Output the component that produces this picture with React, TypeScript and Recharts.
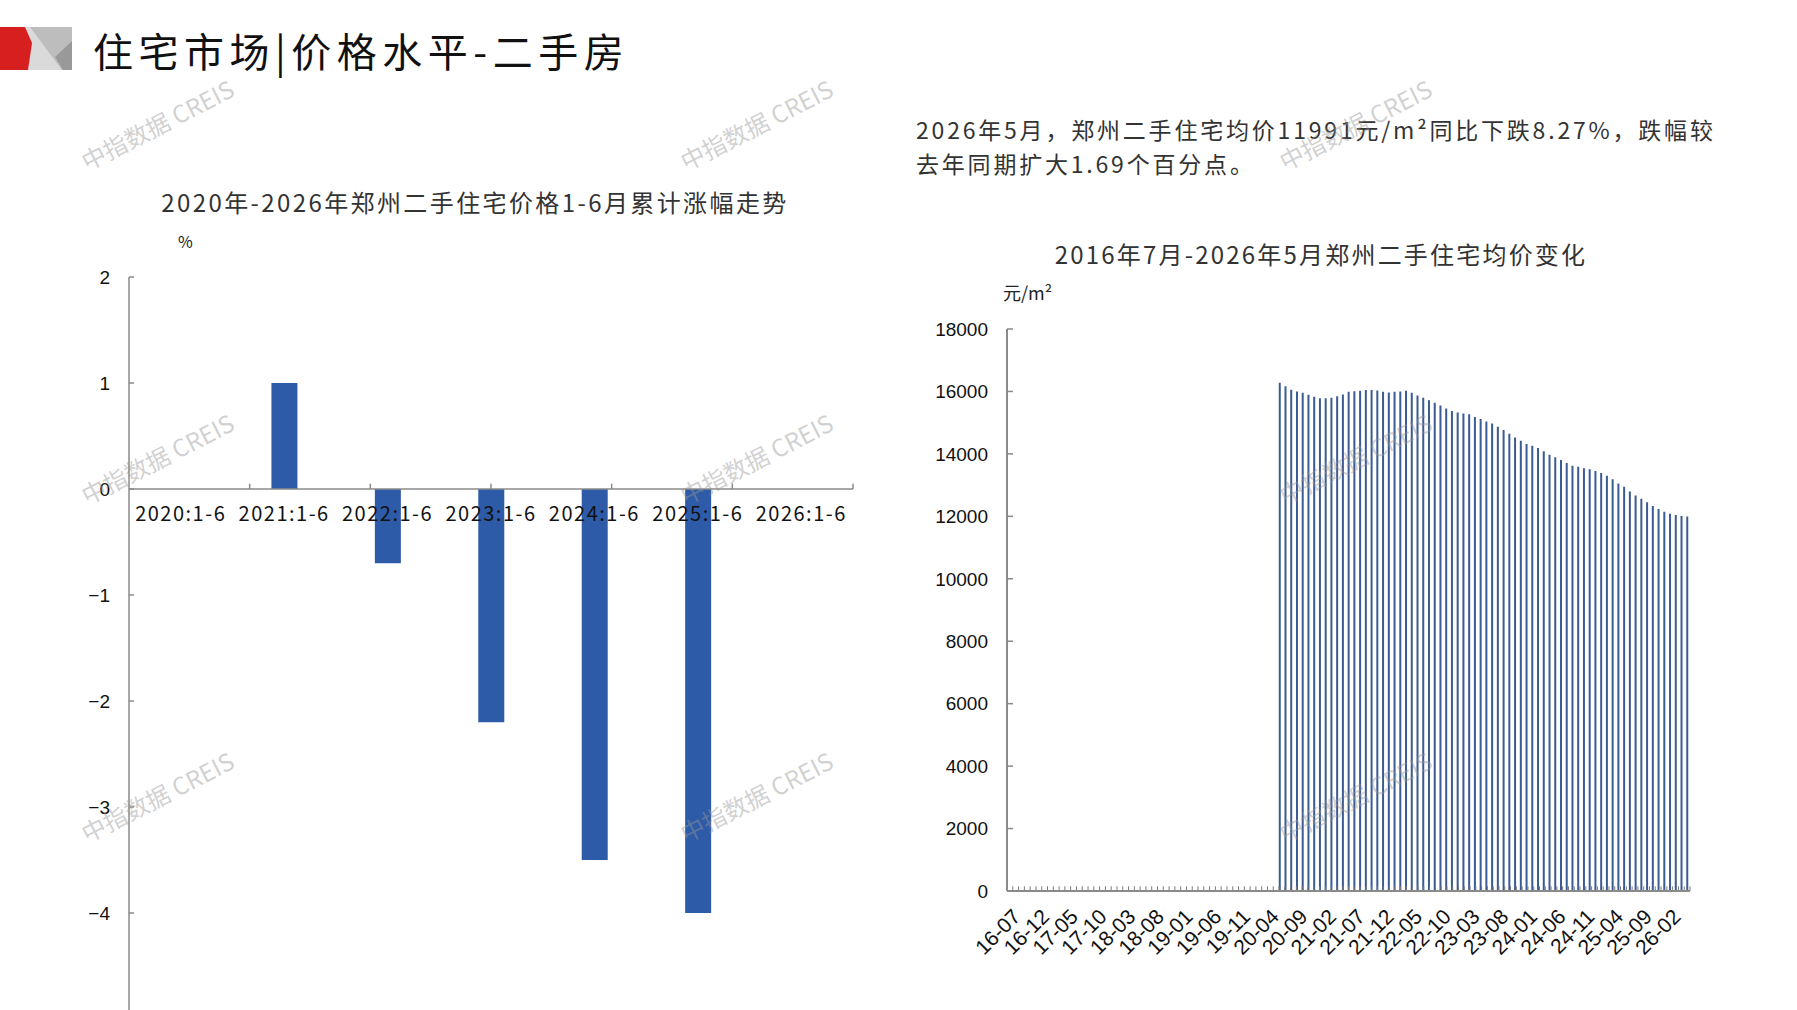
import React from "react";
import { BarChart, Bar, XAxis, YAxis, ReferenceLine, ReferenceDot } from "recharts";

// left chart: Jan-Jun cumulative change, %
const halfYears = ["2020:1-6", "2021:1-6", "2022:1-6", "2023:1-6", "2024:1-6", "2025:1-6", "2026:1-6"];
const halfYearChange: (number | null)[] = [null, 1.0, -0.7, -2.2, -3.5, -4.0, null];
const changeTicks = [-4, -3, -2, -1, 0, 1, 2];

// right chart: monthly average second-hand price, yuan/m2
const months = [
  "16-07", "16-08", "16-09", "16-10", "16-11", "16-12",
  "17-01", "17-02", "17-03", "17-04", "17-05", "17-06", "17-07", "17-08", "17-09", "17-10", "17-11", "17-12",
  "18-01", "18-02", "18-03", "18-04", "18-05", "18-06", "18-07", "18-08", "18-09", "18-10", "18-11", "18-12",
  "19-01", "19-02", "19-03", "19-04", "19-05", "19-06", "19-07", "19-08", "19-09", "19-10", "19-11", "19-12",
  "20-01", "20-02", "20-03", "20-04", "20-05", "20-06", "20-07", "20-08", "20-09", "20-10", "20-11", "20-12",
  "21-01", "21-02", "21-03", "21-04", "21-05", "21-06", "21-07", "21-08", "21-09", "21-10", "21-11", "21-12",
  "22-01", "22-02", "22-03", "22-04", "22-05", "22-06", "22-07", "22-08", "22-09", "22-10", "22-11", "22-12",
  "23-01", "23-02", "23-03", "23-04", "23-05", "23-06", "23-07", "23-08", "23-09", "23-10", "23-11", "23-12",
  "24-01", "24-02", "24-03", "24-04", "24-05", "24-06", "24-07", "24-08", "24-09", "24-10", "24-11", "24-12",
  "25-01", "25-02", "25-03", "25-04", "25-05", "25-06", "25-07", "25-08", "25-09", "25-10", "25-11", "25-12",
  "26-01", "26-02", "26-03", "26-04", "26-05",
];
const avgPrice: (number | null)[] = [
  null, null, null, null, null, null,
  null, null, null, null, null, null, null, null, null, null, null, null,
  null, null, null, null, null, null, null, null, null, null, null, null,
  null, null, null, null, null, null, null, null, null, null, null, null,
  null, null, null, null, null, 16280, 16170, 16055, 16000, 15960, 15895, 15830,
  15785, 15785, 15800, 15850, 15905, 15990, 16010, 16025, 16045, 16045, 16030, 15990,
  15970, 15990, 16000, 16025, 15960, 15870, 15800, 15720, 15635, 15550, 15450, 15375,
  15325, 15290, 15270, 15185, 15120, 15040, 14970, 14870, 14765, 14645, 14525, 14420,
  14315, 14260, 14185, 14085, 13975, 13895, 13805, 13710, 13620, 13590, 13540, 13505,
  13450, 13385, 13300, 13185, 13055, 12945, 12795, 12670, 12560, 12450, 12330, 12235,
  12150, 12085, 12040, 12010, 11991,
];
const priceTicks = [0, 2000, 4000, 6000, 8000, 10000, 12000, 14000, 16000, 18000];

const watermarkX = [157, 756, 1355];
const watermarkY = [124, 458, 796];

const CJK = '"Noto Sans CJK SC", "Noto Sans", sans-serif';
const ARIAL = '"Liberation Sans", Arial, sans-serif';
const AXIS = "#8a8a8a";

const changeData = halfYears.map((period, i) => ({ period, change: halfYearChange[i] }));
const priceData = months.map((month, i) => ({ month, price: avgPrice[i] }));
// category boundaries on a hidden numeric axis, for Excel-style tick marks
const halfYearEdges = halfYears.map((_, i) => i + 1);
const monthEdges = months.map((_, i) => i + 1);

const MonthTick = (props: any) => {
  const { x, y, payload } = props;
  const ax = x + 12;
  const ay = y + 19;
  return (
    <text
      x={ax}
      y={ay}
      transform={`rotate(-45 ${ax} ${ay})`}
      textAnchor="end"
      fontSize={21}
      fontFamily={ARIAL}
      fill="#111"
    >
      {payload.value}
    </text>
  );
};

const Logo = () => (
  <svg width={74} height={44} style={{ position: "absolute", left: 0, top: 27 }}>
    <rect x={20} y={0} width={52} height={43} fill="#dadada" />
    <polygon points="30,0 72,0 72,43 62,43" fill="#bdbdbd" />
    <polygon points="72,14 55,30 63,43 72,43" fill="#999999" />
    <polygon points="0,0 25,0 32,16 28,43 0,43" fill="#d71f1f" />
  </svg>
);

export default function App() {
  return (
    <div
      style={{
        position: "fixed",
        left: 0,
        top: 0,
        width: 1797,
        height: 1010,
        overflow: "hidden",
        background: "#fff",
        fontFamily: CJK,
      }}
    >
      <Logo />
      <div
        style={{
          position: "absolute",
          left: 93,
          top: 28,
          fontSize: 40,
          lineHeight: "44px",
          letterSpacing: 5.5,
          color: "#111",
          whiteSpace: "nowrap",
        }}
      >
        住宅市场|价格水平-二手房
      </div>

      {/* left chart */}
      <div
        style={{
          position: "absolute",
          left: 0,
          width: 950,
          top: 184,
          textAlign: "center",
          fontSize: 24,
          letterSpacing: 2.4,
          color: "#333",
          whiteSpace: "nowrap",
        }}
      >
        2020年-2026年郑州二手住宅价格1-6月累计涨幅走势
      </div>
      <div style={{ position: "absolute", left: 178, top: 229, fontSize: 16, color: "#222" }}>%</div>
      <div style={{ position: "absolute", left: 0, top: 267 }}>
        <BarChart width={863} height={752} data={changeData} margin={{ top: 10, right: 10, bottom: 0, left: 0 }}>
          <XAxis dataKey="period" hide />
          <XAxis xAxisId="edge" type="number" domain={[0, 7]} hide />
          <YAxis
            domain={[-5, 2]}
            ticks={changeTicks}
            interval={0}
            width={129}
            axisLine={{ stroke: AXIS, strokeWidth: 1.5 }}
            tickLine={{ stroke: AXIS, strokeWidth: 1.5 }}
            tickSize={-5}
            tickMargin={24}
            tick={{ fill: "#111", fontSize: 19, fontFamily: ARIAL }}
            tickFormatter={(v) => String(v).replace("-", "\u2212")}
          />
          <Bar dataKey="change" fill="#2e5ba8" barSize={26} isAnimationActive={false} />
          <ReferenceLine y={0} stroke={AXIS} strokeWidth={1.5} />
          {halfYearEdges.map((e) => (
            <ReferenceLine
              key={`e${e}`}
              xAxisId="edge"
              segment={[{ x: e, y: 0 }, { x: e, y: 0.05 }]}
              stroke={AXIS}
              strokeWidth={1.5}
            />
          ))}
          {halfYears.map((p) => (
            <ReferenceDot
              key={p}
              x={p}
              y={0}
              r={0}
              fill="none"
              stroke="none"
              label={{
                value: p,
                position: "bottom",
                offset: 18,
                fill: "#111",
                fontSize: 20,
                fontFamily: CJK,
                letterSpacing: 1.5,
              }}
            />
          ))}
        </BarChart>
      </div>

      {/* right side */}
      <div
        style={{
          position: "absolute",
          left: 916,
          top: 112,
          fontSize: 23,
          lineHeight: "34px",
          letterSpacing: 2.8,
          color: "#333",
          whiteSpace: "nowrap",
        }}
      >
        <div>2026年5月，郑州二手住宅均价11991元/m²同比下跌8.27%，跌幅较</div>
        <div>去年同期扩大1.69个百分点。</div>
      </div>
      <div
        style={{
          position: "absolute",
          left: 1021,
          width: 600,
          top: 236,
          textAlign: "center",
          fontSize: 24,
          letterSpacing: 2.2,
          color: "#333",
          whiteSpace: "nowrap",
        }}
      >
        2016年7月-2026年5月郑州二手住宅均价变化
      </div>
      <div style={{ position: "absolute", left: 1003, top: 279, fontSize: 18, color: "#222" }}>元/m²</div>
      <div style={{ position: "absolute", left: 927, top: 319 }}>
        <BarChart
          width={773}
          height={652}
          data={priceData}
          margin={{ top: 10, right: 10, bottom: 0, left: 0 }}
          barCategoryGap={0}
        >
          <XAxis
            dataKey="month"
            interval={4}
            height={80}
            tickLine={false}
            axisLine={{ stroke: AXIS, strokeWidth: 2 }}
            tick={<MonthTick />}
          />
          <XAxis xAxisId="edge" type="number" domain={[0, months.length]} hide />
          <YAxis
            domain={[0, 18000]}
            ticks={priceTicks}
            interval={0}
            width={80}
            axisLine={{ stroke: AXIS, strokeWidth: 2 }}
            tickLine={{ stroke: AXIS, strokeWidth: 1.5 }}
            tickSize={-6}
            tickMargin={25}
            tick={{ fill: "#111", fontSize: 19, fontFamily: ARIAL }}
          />
          <Bar dataKey="price" fill="#3b5b93" barSize={2} isAnimationActive={false} />
          {monthEdges.map((e) => (
            <ReferenceLine
              key={`m${e}`}
              xAxisId="edge"
              segment={[{ x: e, y: 0 }, { x: e, y: 150 }]}
              stroke="#7a7a7a"
              strokeWidth={1}
            />
          ))}
        </BarChart>
      </div>

      {/* watermarks */}
      {watermarkY.map((wy) =>
        watermarkX.map((wx) => (
          <div
            key={`${wx}-${wy}`}
            style={{
              position: "absolute",
              left: wx,
              top: wy,
              transform: "translate(-50%, -50%) rotate(-27deg)",
              fontSize: 24,
              fontFamily: '"Noto Sans CJK SC", Arial, sans-serif',
              color: "rgba(150,150,150,0.45)",
              whiteSpace: "nowrap",
              pointerEvents: "none",
            }}
          >
            中指数据 CREIS
          </div>
        ))
      )}
    </div>
  );
}
